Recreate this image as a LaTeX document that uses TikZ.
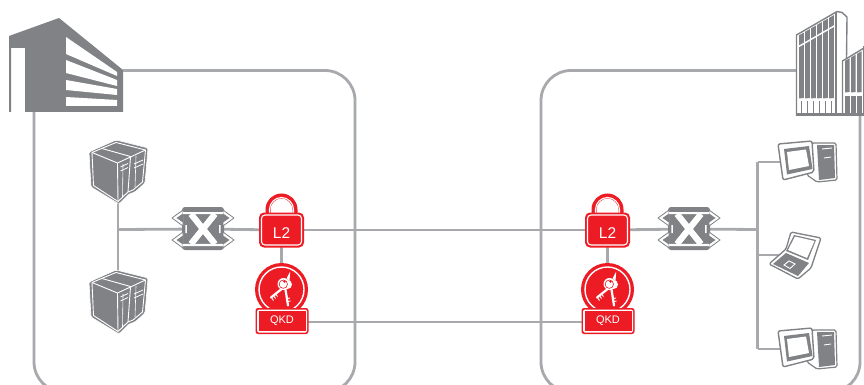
\documentclass[tikz,border=0pt]{standalone}
\usepackage{fontspec}
\setmainfont{Liberation Sans}
\definecolor{dk}{HTML}{808285}
\definecolor{ln}{HTML}{A7A9AC}
\definecolor{rd}{HTML}{ED1C24}
\tikzset{
  conn/.style={draw=ln,line width=2.8pt},
  iconbox/.style={inner sep=0pt,outer sep=0pt,minimum size=2pt},
  labeltext/.style={text=white,inner sep=0pt},
  serverpic/.pic={
    \path[fill=dk,draw=white,line width=.6pt,rounded corners=1.5pt,line join=round]
      (-29,-20)--(-2,-32)--(30,-24)--(27,11)--(17,20)--(11,22)--(1,32)--(-27,15)--cycle;
    \draw[white,line width=.9pt,line join=round] (-26,-19.5)--(-2,-29.5)--(27.5,-22)--(24.5,10)--(15,18)--(10,20)--(0,29.5)--(-24.5,13.5)--cycle;
    \draw[white,line width=.9pt] (-26,-19.5)--(-0.5,-9)--(0,29.5) (-0.5,-9)--(12.5,-15)--(10,20) (-16,-23.5)--(12.5,-15.5) (12.5,-15)--(27.5,-22);
    \draw[white,line width=.8pt] (2.5,-5)--(10,-8.5) (2.5,-1)--(10,-4.5) (16,-8)--(25,-12) (16,-4)--(25,-8);
    \draw[white,line width=.6pt] (5,-8)--(4.5,26) (18,-16)--(17,15);
  },
  switchpic/.pic={
    \fill[dk,rounded corners=3pt] (-21,-22) rectangle (21,21);
    \foreach \sx in {-1,1}{\foreach \sy in {-1,1}{
      \path[fill=white,draw=dk,line width=.8pt,line join=round]
        (\sx*31,\sy*11)--(\sx*20,\sy*19)--(\sx*20,\sy*3)--cycle;
      \fill[dk] (\sx*26.5,\sy*11)--(\sx*20,\sy*15.5)--(\sx*20,\sy*6.5)--cycle;
    }}
    \fill[white] (-20,-17) rectangle (20,-14.8) (-20,17) rectangle (20,14.8);
    \draw[white,line width=6.2pt] (-12,-15)--(12,15) (12,-15)--(-12,15);
    \fill[white] (-17.6,-4) rectangle (-16.2,4) (17.6,-4) rectangle (16.2,4);
  },
  lockpic/.pic={
    \draw[rd,line width=5pt] (-13.5,-14)--(-13.5,-20.5) arc[start angle=180,end angle=360,radius=13.5] --(13.5,-14);
    \draw[white,line width=1.1pt] (-12,-15)--(-12,-20.5) arc[start angle=180,end angle=360,radius=12] --(12,-15);
    \fill[rd,rounded corners=5pt] (-22.5,-17.5) rectangle (22.5,17.5);
    \draw[white,line width=1.1pt,rounded corners=3.5pt] (-20,-15) rectangle (20,15);
    \node[labeltext,font=\fontsize{15.5}{16}\selectfont] at (0,3.5) {L2};
  },
  keypic/.pic={
    \fill[rd] (0,0) circle[radius=26.5];
    \draw[white,line width=1.4pt] (0,0) circle[radius=22.5];
    \draw[white,line width=2.2pt,line cap=round] (2,-2)--(-10.5,8);
    \draw[white,line width=.9pt] (-8,6)--(-6,9) (-6,4.5)--(-4,7) (-10,8)--(-8,11);
    \draw[white,line width=2.2pt,line cap=round] (4,0)--(6.5,16);
    \draw[white,line width=.9pt] (5.5,9)--(8.5,8.5) (6,12)--(9,11.5);
    \fill[white] (5,-11)--(8.7,-18)--(8,-8)--cycle;
    \fill[white] (6,-5) circle[radius=4.5];
    \fill[white] (2,-5.5) circle[radius=6];
    \draw[rd,line width=.6pt] (1.8,-5.3) circle[radius=4.2];
    \fill[rd] (3,-8) circle[radius=1.3];
  },
  qkdboxpic/.pic={
    \fill[rd,rounded corners=2.5pt] (-26.5,-14) rectangle (26.5,12);
    \fill[white,rounded corners=1.5pt] (-25,-12.5) rectangle (25,10.5);
    \fill[rd] (-23.5,-11) rectangle (23.5,9);
    \node[labeltext,font=\fontsize{11}{12}\selectfont] at (0,-1) {QKD};
  },
  pcpic/.pic={
    \path[fill=white,draw=dk,line width=1.2pt,line join=round,rounded corners=1.5pt]
      (5,-19)--(29,-19)--(30,18)--(10,20)--(0,13)--cycle;
    \fill[dk] (10,-17)--(27,-17)--(28,16)--(12,18)--cycle;
    \draw[white,line width=.9pt] (15,-13)--(25,-14) (17,-4)--(24,-5);
    \path[fill=white,draw=dk,line width=1.4pt,line join=round,rounded corners=2pt]
      (-29,-18)--(5,-21)--(7,10)--(-24,18)--cycle;
    \fill[dk] (-23,-13)--(2,-16)--(5.5,7)--(-20,12.5)--cycle;
    \fill[white] (-20,-10)--(-1,-12.5)--(2,4)--(-18,8)--cycle;
  },
  laptoppic/.pic={
    \path[fill=white,draw=dk,line width=1.3pt,line join=round,rounded corners=1.5pt]
      (-5,-23)--(25,-17)--(15,13)--(2,24)--(-27,9)--(-10,-6)--cycle;
    \fill[dk] (-2,-20)--(20,-15)--(12,5)--(-10,-4)--cycle;
    \fill[white] (-1,-18.5)--(18.5,-14)--(11,3)--(-8,-5)--cycle;
    \fill[dk] (-10,-2)--(13,8)--(2,21)--(-23,9)--cycle;
    \draw[white,line width=.9pt] (-12,10)--(-7,6)--(-1,9)--(-6,13.5)--cycle;
  },
}
\begin{document}
\begin{tikzpicture}[x=1pt,y=-1pt]
\path[use as bounding box,fill=white] (0,0) rectangle (864,385);
% icon anchors
\node[iconbox] (bldA) at (66,65) {};
\node[iconbox] (bldB) at (830,65) {};
\node[iconbox] (srvA) at (118,172) {};
\node[iconbox] (srvB) at (118,302) {};
\node[iconbox] (swA) at (203,229) {};
\node[iconbox] (lockA) at (281.5,230) {};
\node[iconbox] (keyA) at (281.5,289.5) {};
\node[iconbox] (qkdA) at (282,322) {};
\node[iconbox] (lockB) at (607.5,230) {};
\node[iconbox] (keyB) at (607.5,289.5) {};
\node[iconbox] (qkdB) at (608,322) {};
\node[iconbox] (swB) at (689,229) {};
\node[iconbox] (pcA) at (807,162) {};
\node[iconbox] (lapt) at (796,255) {};
\node[iconbox] (pcB) at (807,349) {};
\coordinate (jA) at (119,229.5);
\coordinate (jB) at (757.5,229.5);
\coordinate (jT) at (757.5,162);
\coordinate (jL) at (757.5,255);
\coordinate (jD) at (757.5,349);
% site frames
\begin{scope}
\clip (0,0) rectangle (864,385);
\draw[conn,rounded corners=30pt] (34,100)--(34,392)--(355,392)--(355,70.5)--(100,70.5);
\draw[conn,rounded corners=30pt] (820,70.5)--(541,70.5)--(541,392)--(860,392)--(860,100);
\end{scope}
% connectors
\draw[conn] (srvA.center)--(srvB.center);
\draw[conn] (jA)--(swA.center);
\draw[conn] (swA.center)--(lockA.center);
\draw[conn] (lockA.center)--(lockB.center);
\draw[conn] (lockB.center)--(swB.center);
\draw[conn] (swB.center)--(jB);
\draw[conn] (jT)--(jD);
\draw[conn] (jT)--(pcA.center);
\draw[conn] (jL)--(lapt.center);
\draw[conn] (jD)--(pcB.center);
\draw[conn] (lockA.center)--(keyA.center);
\draw[conn] (lockB.center)--(keyB.center);
\draw[conn] (qkdA.center)--(qkdB.center);
% left building
\fill[white] (9,36)--(59,18)--(123,70)--(123,112)--(9,112)--cycle;
\fill[dk] (9,36)--(59,18)--(123,70)--(123,112)--(25,112)--(25,48)--(11,48)--(11,112)--(9,112)--cycle;
\fill[white] (66,37)--(117,72)--(117,76)--(66,54)--cycle
 (66,60)--(117,80)--(117,86)--(66,73)--cycle
 (66,80)--(117,89)--(117,95)--(66,90)--cycle
 (66,97)--(117,100)--(117,106)--(66,106)--cycle;
% right building
\fill[white] (796,35)--(837,11)--(847,17)--(846,58)--(864,47)--(864,116)--(796,116)--cycle;
\draw[dk,line width=1.4pt,line join=round] (796.5,116)--(796.5,35)--(837,11.5)--(842,12.5)--(847,17)--(846.5,58);
\draw[dk,line width=1.4pt] (836,12)--(836,116);
\draw[dk,line width=1.4pt] (842.5,116)--(842.5,61)--(864,48);
\fill[dk] (796,113)rectangle(864,116.5);
\foreach \xa in {799,805,811,817,823,829}{
  \pgfmathsetmacro{\ya}{36.5-(\xa-797)*0.58}
  \pgfmathsetmacro{\yb}{\ya-2.8}
  \fill[dk] (\xa,\ya)--(\xa+4.9,\yb)--(\xa+4.9,\yb+10)--(\xa,\ya+10)--cycle;
  \fill[dk] (\xa,\ya+12)--(\xa+4.9,\yb+12)--(\xa+4.9,98)--(\xa,98.5)--cycle;
  \draw[dk,line width=1pt] (\xa+2.4,101)--(\xa+2.4,113);
}
\foreach \xa in {845,851,857}{
  \pgfmathsetmacro{\ya}{62-(\xa-843)*0.58}
  \fill[dk] (\xa,\ya)--(\xa+4.6,\ya-2.6)--(\xa+4.6,92)--(\xa,92.5)--cycle;
  \fill[dk] (\xa,96)--(\xa+4.6,96)--(\xa+4.6,113)--(\xa,113)--cycle;
}
\fill[dk] (862.5,46)rectangle(864,113);
% icons
\pic at (srvA) {serverpic};
\pic at (srvB) {serverpic};
\pic at (swA) {switchpic};
\pic at (swB) {switchpic};
\pic at (keyA) {keypic};
\pic at (keyB) {keypic};
\pic at (lockA) {lockpic};
\pic at (lockB) {lockpic};
\pic at (qkdA) {qkdboxpic};
\pic at (qkdB) {qkdboxpic};
\pic at (pcA) {pcpic};
\pic at (pcB) {pcpic};
\pic at (lapt) {laptoppic};
\end{tikzpicture}
\end{document}
